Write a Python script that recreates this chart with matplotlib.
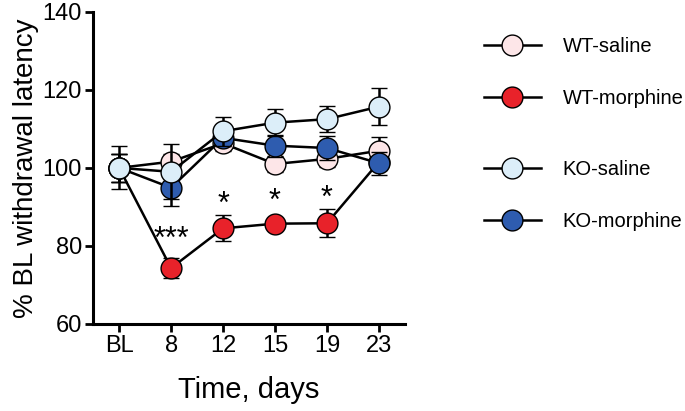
import numpy as np
import matplotlib.pyplot as plt
from matplotlib.lines import Line2D

plt.rcParams['font.family'] = ['Liberation Sans', 'DejaVu Sans']

days = ["BL", "8", "12", "15", "19", "23"]

wt_saline = [100, 101.6, 106.3, 101.0, 102.3, 104.4]
wt_saline_err = [3.5, 2.0, 2.0, 2.0, 2.0, 3.5]

wt_morphine = [100, 74.3, 84.5, 85.7, 85.8, 101.5]
wt_morphine_err = [3.5, 2.5, 3.3, 1.5, 3.6, 2.0]

ko_saline = [100, 99.0, 109.4, 111.6, 112.5, 115.7]
ko_saline_err = [5.5, 7.0, 3.7, 3.5, 3.3, 4.8]

ko_morphine = [100, 94.9, 107.7, 105.7, 105.1, 101.2]
ko_morphine_err = [3.5, 4.7, 2.0, 2.8, 3.0, 3.0]

stars = ["***", "*", "*", "*"]
star_x = [1, 2, 3, 4]
star_y = [81.5, 90.5, 91.3, 92.0]

colors = {
    "WT-saline": "#fde6e8",
    "WT-morphine": "#e8222a",
    "KO-saline": "#dceef9",
    "KO-morphine": "#2e5caf",
}

fig = plt.figure(figsize=(6.85, 4.11), dpi=100)
ax = fig.add_axes([0.136, 0.212, 0.455, 0.759])

x = np.arange(len(days))
series = [
    ("WT-morphine", wt_morphine, wt_morphine_err),
    ("WT-saline", wt_saline, wt_saline_err),
    ("KO-morphine", ko_morphine, ko_morphine_err),
    ("KO-saline", ko_saline, ko_saline_err),
]
for z, (name, vals, err) in enumerate(series):
    ax.errorbar(x, vals, yerr=err, color='black', lw=1.8, capsize=5.5,
                capthick=2.2, elinewidth=1.8, marker='o', markersize=15,
                markerfacecolor=colors[name], markeredgecolor='black',
                markeredgewidth=1.0, zorder=3 + z)

for sx, sy, s in zip(star_x, star_y, stars):
    ax.text(sx, sy, s, ha='center', va='center', fontsize=22)

ax.set_xlim(-0.5, 5.5)
ax.set_ylim(60, 140)
ax.set_xticks(x)
ax.set_xticklabels(days)
ax.set_yticks([60, 80, 100, 120, 140])
ax.tick_params(labelsize=17, width=2, length=6, direction='out', pad=2)
ax.spines['top'].set_visible(False)
ax.spines['right'].set_visible(False)
for sp in ['left', 'bottom']:
    ax.spines[sp].set_linewidth(2.2)
ax.set_xlabel("Time, days", fontsize=21, labelpad=14)
ax.set_ylabel("% BL withdrawal latency", fontsize=20, labelpad=3)

def handle(name):
    return Line2D([], [], color='black', lw=1.8, marker='o', markersize=15,
                  markerfacecolor=colors[name], markeredgecolor='black',
                  markeredgewidth=1.0)

legend_kw = dict(loc='upper left', frameon=False, fontsize=14.5,
                 handlelength=2.8, labelspacing=1.65, handletextpad=1.1,
                 borderpad=0, borderaxespad=0)
fig.legend([handle("WT-saline"), handle("WT-morphine")],
           ["WT-saline", "WT-morphine"], bbox_to_anchor=(0.707, 0.911),
           **legend_kw)
fig.legend([handle("KO-saline"), handle("KO-morphine")],
           ["KO-saline", "KO-morphine"], bbox_to_anchor=(0.707, 0.611),
           **legend_kw)

fig.savefig("out.png", dpi=100)
